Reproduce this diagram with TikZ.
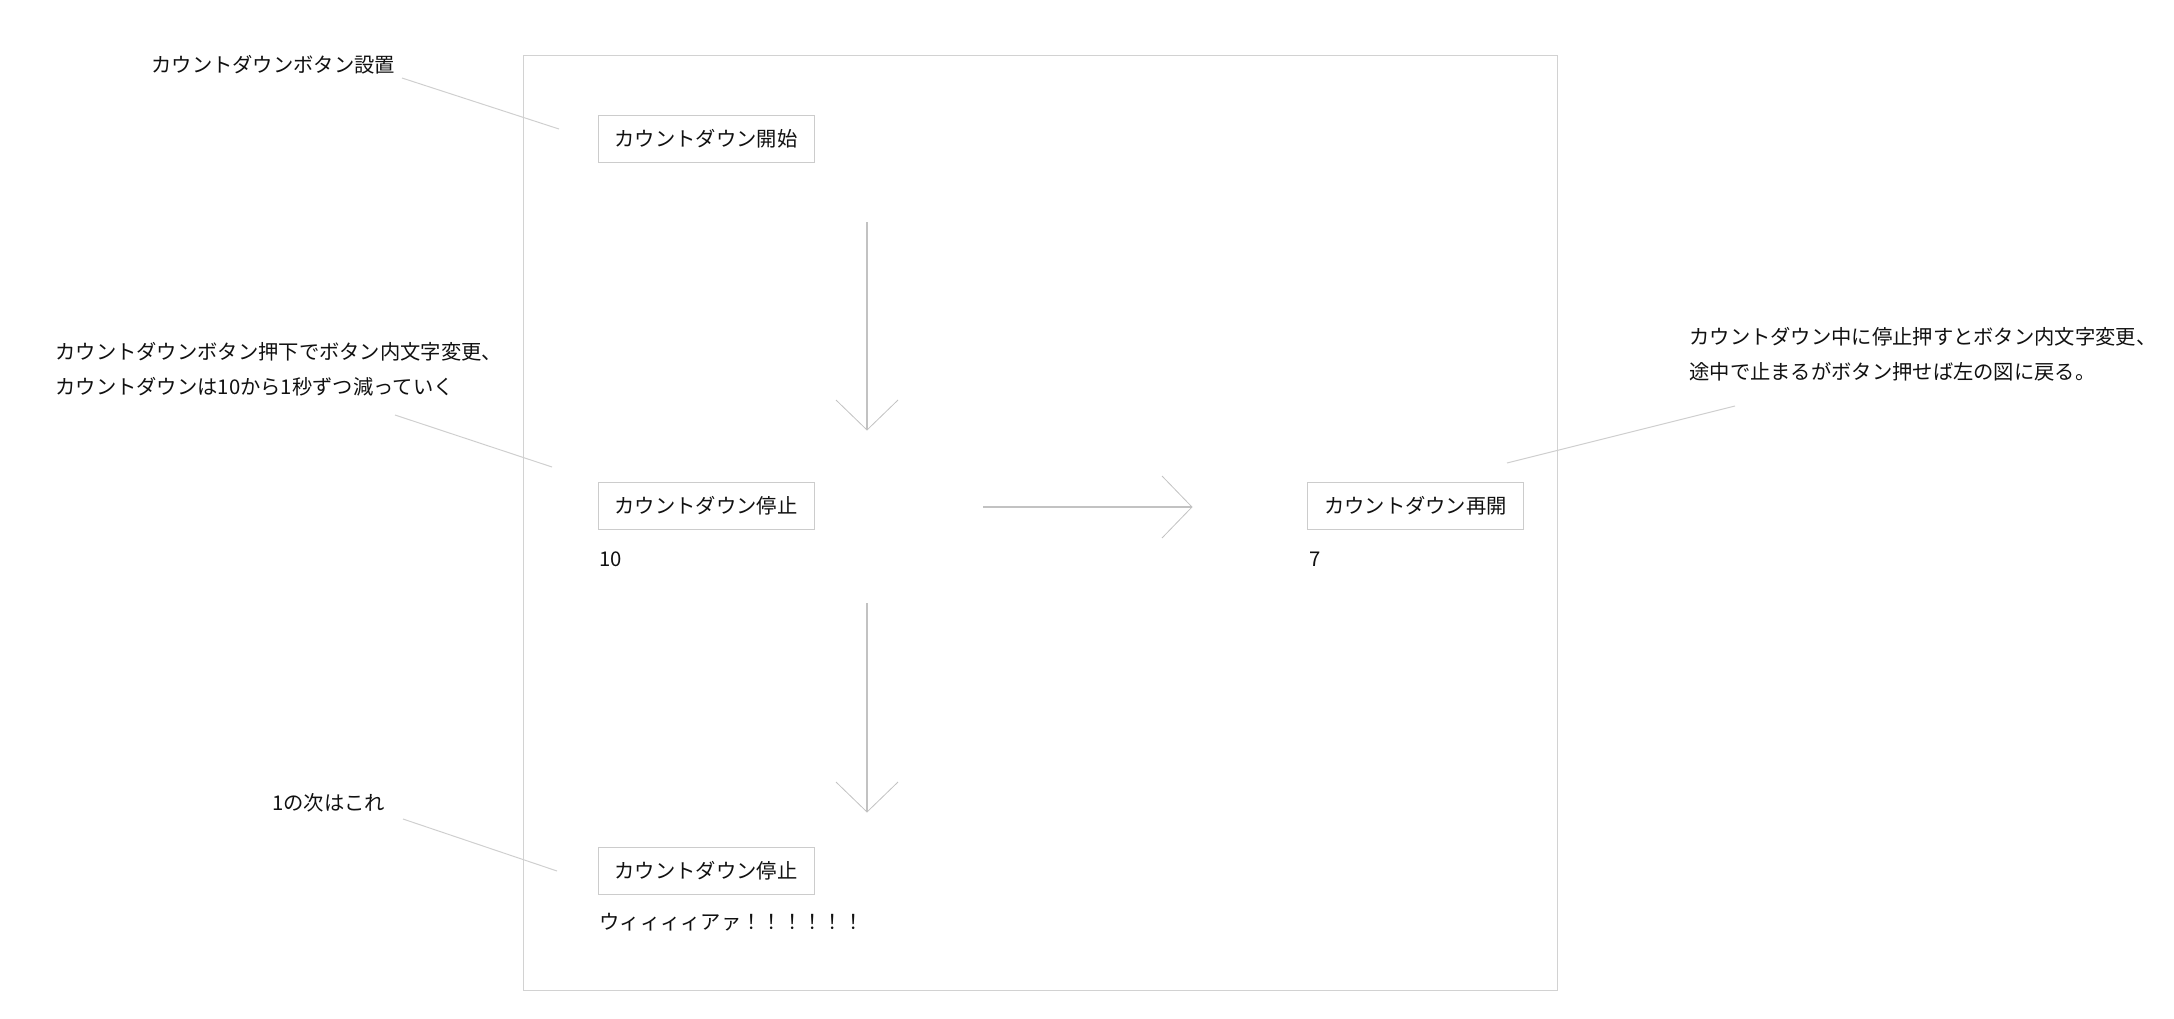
\documentclass[tikz,border=0pt]{standalone}
\usepackage{fontspec}
\setmainfont{Noto Sans CJK JP}
\definecolor{boxgray}{HTML}{CCCCCC}
\definecolor{framegray}{HTML}{D2D2D2}
\definecolor{leadgray}{HTML}{CFCFCF}
\definecolor{arrgray}{HTML}{C2C2C2}
\definecolor{txt}{HTML}{111111}
\begin{document}
\begin{tikzpicture}[x=0.5pt,y=-0.5pt,
  lbl/.style={font=\fontsize{10.15pt}{17.5pt}\selectfont, inner sep=0pt, anchor=west, align=left, text=txt},
  btn/.style={draw=boxgray, line width=0.5pt, minimum width=108pt, minimum height=23.5pt, inner sep=0pt, text=txt, font=\fontsize{10.15pt}{12pt}\selectfont},
  lead/.style={draw=leadgray, line width=0.5pt},
  shaft/.style={draw=arrgray, line width=0.75pt},
  head/.style={draw=arrgray, line width=0.4pt}]
\useasboundingbox (0,0) rectangle (2174,1018);
% frame
\node[draw=framegray, line width=0.5pt, minimum width=517pt, minimum height=467.5pt, inner sep=0pt] (frame) at (1040,522.5) {};
% buttons
\node[btn] (start) at (706,138.5) {カウントダウン開始};
\node[btn] (stop1) at (706,506) {カウントダウン停止};
\node[btn] (resume) at (1415.5,506) {カウントダウン再開};
\node[btn] (stop2) at (706,870.5) {カウントダウン停止};
% values
\node[lbl] (v10) at (599,559) {10};
\node[lbl] (v7) at (1309,559) {7};
\node[lbl] (vend) at (599,922) {ウィィィィアァ！！！！！！};
% annotations
\node[lbl] (n1) at (151,65) {カウントダウンボタン設置};
\node[lbl] (n2) at (55,369.5) {カウントダウンボタン押下でボタン内文字変更、\\カウントダウンは10から1秒ずつ減っていく};
\node[lbl] (n3) at (272,803) {1の次はこれ};
\node[lbl] (n4) at (1689,354) {カウントダウン中に停止押すとボタン内文字変更、\\途中で止まるがボタン押せば左の図に戻る。};
% leader lines
\coordinate (l1a) at (402,78);   \coordinate (l1b) at (559,129);
\coordinate (l2a) at (395,415);  \coordinate (l2b) at (552,467);
\coordinate (l3a) at (403,819);  \coordinate (l3b) at (557,871);
\coordinate (l4a) at (1735,406); \coordinate (l4b) at (1507,463);
\draw[lead] (l1a) -- (l1b);
\draw[lead] (l2a) -- (l2b);
\draw[lead] (l3a) -- (l3b);
\draw[lead] (l4a) -- (l4b);
% arrows
\coordinate (a1s) at (867,222); \coordinate (a1e) at (867,430);
\coordinate (a2s) at (983,507); \coordinate (a2e) at (1192,507);
\coordinate (a3s) at (867,603); \coordinate (a3e) at (867,812);
\draw[shaft] (a1s) -- (a1e);
\draw[head] ([shift={(-31,-30)}]a1e) -- (a1e) -- ([shift={(31,-30)}]a1e);
\draw[shaft] (a2s) -- (a2e);
\draw[head] ([shift={(-30,-31)}]a2e) -- (a2e) -- ([shift={(-30,31)}]a2e);
\draw[shaft] (a3s) -- (a3e);
\draw[head] ([shift={(-31,-30)}]a3e) -- (a3e) -- ([shift={(31,-30)}]a3e);
\end{tikzpicture}
\end{document}
